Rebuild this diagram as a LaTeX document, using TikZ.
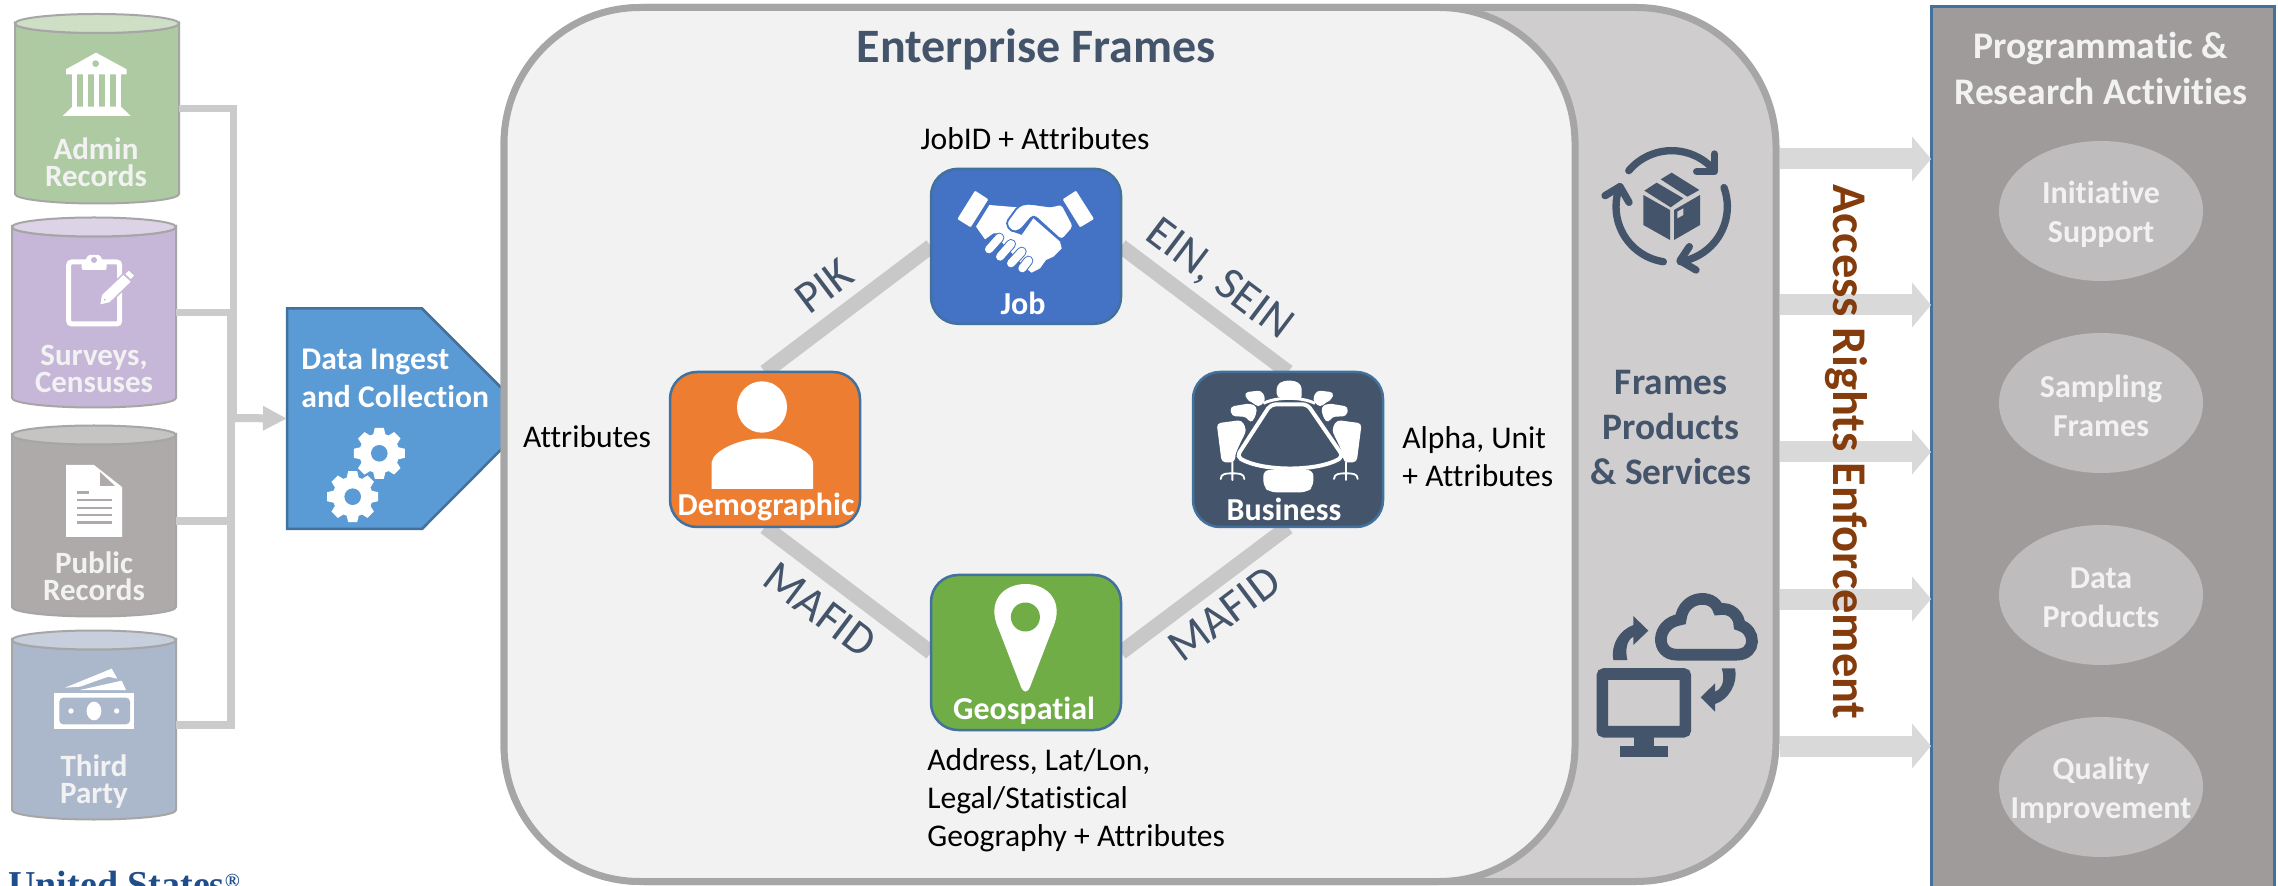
\documentclass[tikz,border=0pt]{standalone}
\usepackage{fontspec}
\setmainfont{Carlito}[Ligatures=CommonOff]
\newfontfamily\logofont{Liberation Serif}
\usetikzlibrary{arrows.meta,calc,shapes.geometric}
\definecolor{slate}{HTML}{44546A}
\definecolor{feedgrey}{HTML}{CCCBCB}
\definecolor{linkgrey}{HTML}{C8C8C8}
\definecolor{framegrey}{HTML}{A6A6A6}
\definecolor{backgrey}{HTML}{CFCDCE}
\definecolor{innergrey}{HTML}{F2F2F2}
\definecolor{arrowgrey}{HTML}{D9D9D9}
\definecolor{panelgrey}{HTML}{9E9B9A}
\definecolor{ovalgrey}{HTML}{BEBCBC}
\definecolor{edgeblue}{HTML}{41719C}
\definecolor{ingestblue}{HTML}{5B9BD5}
\definecolor{jobblue}{HTML}{4472C4}
\definecolor{demoorange}{HTML}{ED7D31}
\definecolor{geogreen}{HTML}{70AD47}
\definecolor{accessbrown}{HTML}{843C0C}
\definecolor{logoblue}{HTML}{1F4E8B}
\definecolor{cgreen}{HTML}{AECAA2}\definecolor{cgreent}{HTML}{CFDFC6}
\definecolor{cpurple}{HTML}{C6B6D7}\definecolor{cpurplet}{HTML}{DDD3E7}
\definecolor{cgrey}{HTML}{ADAAA9}\definecolor{cgreyt}{HTML}{C6C4C3}
\definecolor{cblue}{HTML}{ABB8CC}\definecolor{cbluet}{HTML}{C7CFDC}
\pgfdeclarelayer{under}
\pgfsetlayers{under,main}
\newcommand\fsz[2]{\fontsize{#1}{#2}\selectfont}
% name, x centre, y of top ellipse, y of bottom ellipse, body colour, top colour
\newcommand\cylshape[6]{%
  \node[inner sep=0,outer sep=0,minimum width=82pt,minimum height={(#4-#3+19)*0.5pt}] (#1) at (#2,{(#3+#4)/2}) {};
  \filldraw[draw=framegrey,line width=1pt,fill=#5] ({#2-82},#3) -- ({#2-82},#4) arc[start angle=180,end angle=0,x radius=82,y radius=9.5] -- ({#2+82},#3) arc[start angle=0,end angle=180,x radius=82,y radius=9.5] -- cycle;
  \filldraw[draw=framegrey,line width=1pt,fill=#6] (#2,#3) ellipse[x radius=82,y radius=9.5];
}
\newcommand\gearicon[3]{%
  \fill[white] (#1,#2) circle[radius=20];
  \foreach \a in {0,45,...,315}{\fill[white,shift={(#1,#2)},rotate=\a] (-6.5,-17) -- (-4.5,-25.5) -- (4.5,-25.5) -- (6.5,-17) -- cycle;}
  \fill[#3] (#1,#2) circle[radius=8.3];
}
\tikzset{
  feed/.style={draw=feedgrey,line width=3.6pt},
  link/.style={draw=linkgrey,line width=7.5pt},
  squarebox/.style={draw=edgeblue,line width=1.25pt,rounded corners=13.5pt,minimum width=95pt,minimum height=77.5pt,inner sep=0,outer sep=0},
  flowarrow/.style={draw=arrowgrey,line width=10.5pt,-{Triangle[length=9.5pt,width=22pt]}},
  oval/.style={ellipse,fill=ovalgrey,minimum width=102pt,minimum height=70pt,inner sep=0},
  ovaltext/.style={inner sep=0,text=innergrey,font=\bfseries\fsz{16}{19.5},align=center},
  cyllabel/.style={text=innergrey,font=\bfseries\fsz{15.5}{13.5},align=center,inner sep=0},
  boxlabel/.style={text=white,font=\bfseries\fsz{16}{18},inner sep=0},
  linklabel/.style={text=slate,font=\fsz{23}{26},inner sep=0},
  attrlabel/.style={text=black,font=\fsz{15.8}{19},inner sep=0,align=left},
  zoomed/.style={shift={#1},x=0.16667pt,y=-0.16667pt}
}
\begin{document}
\begin{tikzpicture}[x=0.5pt,y=-0.5pt]
\useasboundingbox (0,0) rectangle (2278,886);
\clip (0,0) rectangle (2278,886);
\begin{pgfonlayer}{under}
\fill[white] (0,0) rectangle (2278,886);
\end{pgfonlayer}

% cylinders
\cylshape{cylA}{97}{23.5}{194}{cgreen}{cgreent}
\cylshape{cylB}{94}{227}{398}{cpurple}{cpurplet}
\cylshape{cylC}{94}{435}{607}{cgrey}{cgreyt}
\cylshape{cylD}{94}{640}{810}{cblue}{cbluet}

\node[cyllabel] (labA) at (96,162.5) {Admin\\Records};
\node[cyllabel] (labB) at (94,369) {Surveys,\\Censuses};
\node[cyllabel] (labC) at (94,576.5) {Public\\Records};
\node[cyllabel] (labD) at (94,781.5) {Third\\Party};

% bank icon
\begin{scope}[zoomed={(40,40)}]
  \fill[white] (168,38) -- (260,88) -- (260,103) -- (78,103) -- (78,88) -- cycle;
  \fill[cgreen] (167,71) circle[radius=10];
  \foreach \c in {97,130,163,195,228}{\fill[white] (\c,103) rectangle ++(15,97);}
  \fill[white] (97,200) -- (243,200) -- (272,228) -- (68,228) -- cycle;
\end{scope}
% clipboard icon
\begin{scope}[zoomed={(40,240)}]
  \draw[white,line width=2.5pt,rounded corners=1.5pt] (86,66) rectangle (239,252);
  \fill[white,rounded corners=1pt] (125,90) -- (125,62) -- (138,62) -- (142,45) -- (182,45) -- (186,62) -- (200,62) -- (200,90) -- cycle;
  \fill[cpurple] (162,60) circle[radius=9];
  \draw[cpurple,line width=1.5pt] (181,193) -- (186,165) -- (250,105) -- (272,125) -- (208,187) -- cycle;
  \fill[white] (181,193) -- (186,165) -- (250,105) -- (272,125) -- (208,187) -- cycle;
  \fill[white] (256,102) -- (266,92) -- (282,107) -- (272,117) -- cycle;
  \fill[cpurple] (194,179) circle[radius=3];
\end{scope}
% document icon
\fill[white] (66,465) -- (94,465) -- (122,487) -- (122,537) -- (66,537) -- cycle;
\fill[cgrey] (100,472) -- (115,486) -- (100,486) -- cycle;
\draw[cgrey,line width=1.2pt] (77,492.5) -- (89,492.5) (77,500) -- (112,500) (77,508) -- (112,508) (77,515) -- (112,515) (77,522.5) -- (112,522.5);
% money icon
\begin{scope}[zoomed={(30,660)}]
  \fill[white] (105,83) -- (245,26) -- (262,56) -- (235,50) -- (150,80) -- cycle;
  \fill[white] (150,90) -- (275,62) -- (288,90) -- cycle;
  \fill[white] (72,98) rectangle (313,208);
  \fill[cblue,rounded corners=2pt] (88,113) rectangle (300,193);
  \fill[white] (192,153) ellipse[x radius=22,y radius=28];
  \fill[white] (123,153) circle[radius=8] (260,153) circle[radius=8];
\end{scope}

% feed connectors
\coordinate (busUp) at (233.5,418);
\coordinate (busLow) at (231,418);
\coordinate (ingest) at (287,418.5);
\draw[feed] (cylA.east) -| (busUp);
\draw[feed] (cylB.east) -| (busLow);
\draw[feed] (cylC.east) -| (busLow);
\draw[feed] (cylD.east) -| (busLow);
\draw[feed,line width=4pt,-{Triangle[length=12pt,width=11.5pt]}] (busLow) -- (ingest);

\begin{pgfonlayer}{under}
  \filldraw[draw=edgeblue,line width=1.25pt,fill=ingestblue] (ingest |- 0,308.5) -- (422,308.5) -- (532,418.5) -- (422,529) -- (ingest |- 0,529) -- cycle;
  \node[draw=framegrey,line width=3.5pt,fill=backgrey,rounded corners=70pt,minimum width=636pt,minimum height=437pt,inner sep=0,outer sep=1.75pt] (back) at (1140,444.5) {};
  \node[draw=framegrey,line width=3.5pt,fill=innergrey,rounded corners=68pt,minimum width=535.5pt,minimum height=437pt,inner sep=0,outer sep=1.75pt] (inner) at (1039.5,444.5) {};
\end{pgfonlayer}

\node[text=white,font=\bfseries\fsz{15.8}{19},align=left,inner sep=0,anchor=west] (ingestlabel) at (301,378.5) {Data Ingest\\and Collection};
\gearicon{379.3}{453.3}{ingestblue}
\gearicon{352.7}{496.7}{ingestblue}

% entity boxes
\node[squarebox,fill=jobblue] (job) at (1026,246.3) {};
\node[squarebox,fill=demoorange] (demo) at (765,449.5) {};
\node[squarebox,fill=slate] (biz) at (1288,449.5) {};
\node[squarebox,fill=geogreen] (geo) at (1026,652.5) {};
\begin{pgfonlayer}{under}
  \draw[link] (job.west) -- (demo.north);
  \draw[link] (job.east) -- (biz.north);
  \draw[link] (demo.south) -- (geo.west);
  \draw[link] (biz.south) -- (geo.east);
\end{pgfonlayer}
\node[boxlabel] (jobt) at (1023,303) {Job};
\node[boxlabel] (demot) at (766,507) {Demographic};
\node[boxlabel] (bizt) at (1284,509) {Business};
\node[boxlabel] (geot) at (1024,710.5) {Geospatial};

% handshake
\begin{scope}[zoomed={(940,170)}]
  \fill[white,rounded corners=0.5pt] (105,62) -- (145,88) -- (92,172) -- (52,147) -- cycle;
  \fill[white,rounded corners=0.5pt] (408,62) -- (368,88) -- (420,172) -- (462,147) -- cycle;
  \fill[white] (148,105) -- (232,112) -- (200,165) -- (215,190) -- (160,190) -- (135,208) -- (108,170) -- cycle;
  \fill[white] (190,175) -- (245,195) -- (280,145) -- (360,215) -- (365,235) -- (340,260) -- (318,270) -- (300,295) -- (275,308) -- (258,295) -- (170,200) -- cycle;
  \foreach \xa/\ya/\xb/\yb in {178/203/147/238,213/222/180/260,245/245/213/280,265/272/247/295}{
    \draw[jobblue,line width=5pt,line cap=round] (\xa,\ya) -- (\xb,\yb);
    \draw[white,line width=4pt,line cap=round] (\xa,\ya) -- (\xb,\yb);}
  \filldraw[fill=white,draw=jobblue,line width=0.9pt,rounded corners=2pt] (235,108) -- (262,100) -- (335,110) -- (365,100) -- (402,170) -- (365,212) -- (280,135) -- (240,182) -- (215,186) -- (197,160) -- cycle;
\end{scope}
% person
\fill[white] (762,407) ellipse[x radius=25,y radius=25.7];
\fill[white] (711.7,489) -- (711.7,462) .. controls (714,450) and (740,438.5) .. (762,438.5) .. controls (785,438.5) and (811,450) .. (813,462) -- (813,489) -- cycle;
% pin
\fill[white] (1025.4,691.6) .. controls (1023,691.6) and (1022,689) .. (1021,687) -- (999,630) .. controls (985,600) and (1005,584) .. (1025.4,584) .. controls (1046,584) and (1066,600) .. (1052,630) -- (1030,687) .. controls (1029,689) and (1028,691.6) .. (1025.4,691.6) -- cycle;
\fill[geogreen] (1025.4,617) ellipse[x radius=14.5,y radius=14.5];
% boardroom
\begin{scope}[zoomed={(1200,375)}]
  \fill[white,rounded corners=2pt] (230,68) -- (230,30) -- (250,17) -- (285,17) -- (305,30) -- (305,75) -- cycle;
  \foreach \sx/\off in {1/0,-1/535}{
   \begin{scope}[shift={(\off,0)},xscale=\sx]
    \fill[white,rounded corners=2pt] (133,52) -- (185,46) -- (198,75) -- (175,98) -- (155,80) -- (140,75) -- cycle;
    \fill[white,rounded corners=2pt] (90,95) -- (150,85) -- (172,95) -- (165,130) -- (150,145) -- (140,125) -- (95,124) -- cycle;
    \fill[white,rounded corners=2pt] (50,145) -- (125,135) -- (140,165) -- (118,210) -- (105,240) -- (105,262) -- (65,262) -- cycle;
    \draw[white,line width=0.9pt,line cap=round] (97,262) -- (97,295) (62,312) .. controls (62,295) and (80,295) .. (97,295) .. controls (115,295) and (133,295) .. (133,312) (97,295) -- (97,315);
   \end{scope}}
  \fill[white,rounded corners=3pt] (190,285) -- (340,285) -- (340,335) -- (320,352) -- (210,352) -- (190,335) -- cycle;
  \draw[white,line width=1.5pt] (190,85) .. controls (230,65) and (305,65) .. (345,85);
  \filldraw[fill=slate,draw=white,line width=2pt,rounded corners=2.5pt] (212,88) -- (322,88) -- (430,245) .. controls (350,290) and (190,290) .. (110,245) -- cycle;
\end{scope}

% labels in the frame
\node[text=slate,font=\bfseries\fsz{24}{28},inner sep=0] (title) at (1036,49.5) {Enterprise Frames};
\node[attrlabel] (attrjob) at (1035,139) {JobID + Attributes};
\node[attrlabel] (attrdemo) at (587,437) {Attributes};
\node[attrlabel,anchor=west] (attrbiz) at (1402,457) {Alpha, Unit\\+ Attributes};
\node[attrlabel,anchor=north west] (attrgeo) at (927,748) {Address, Lat/Lon,\\Legal/Statistical\\Geography + Attributes};
\node[linklabel,rotate=37] (lpik) at (824,286) {PIK};
\node[linklabel,rotate=-37] (lein) at (1219,280) {EIN, SEIN};
\node[linklabel,rotate=-37] (lmafl) at (820,610) {MAFID};
\node[linklabel,rotate=37] (lmafr) at (1224,614) {MAFID};

\node[text=slate,font=\bfseries\fsz{18.7}{22.5},align=center,inner sep=0] (fps) at (1671,428) {Frames\\Products\\\& Services};

% box cycle icon
\begin{scope}[zoomed={(1580,130)}]
  \begin{scope}[line width=3.67pt,line cap=round,line join=round]
  \draw[slate] ({275+168*cos(220)},{230+168*sin(220)}) arc[start angle=220,end angle=318,radius=168];
  \draw[slate] (403,72) -- (403,125) -- (350,125);
  \draw[slate] ({275+167*cos(340)},{230+167*sin(340)}) arc[start angle=340,end angle=441,radius=167];
  \draw[slate] (328,350) -- (300,392) -- (348,420);
  \draw[slate] ({275+167*cos(98.6)},{230+167*sin(98.6)}) arc[start angle=98.6,end angle=201,radius=167];
  \draw[slate] (75,197) -- (120,170) -- (147,217);
  \end{scope}
  \fill[slate] (193,182) -- (230,158) -- (310,205) -- (272,232) -- cycle;
  \fill[slate] (242,148) -- (275,128) -- (358,180) -- (322,200) -- cycle;
  \fill[slate] (190,195) -- (270,240) -- (270,330) -- (190,285) -- cycle;
  \fill[slate] (282,240) -- (360,195) -- (360,285) -- (282,330) -- cycle;
  \fill[backgrey] (292,245) -- (310,235) -- (310,255) -- (292,265) -- cycle;
\end{scope}
% monitor and cloud icon
\begin{scope}[zoomed={(1580,580)}]
  \draw[slate,line width=5.83pt,rounded corners=1pt] (67,282) rectangle (316,455);
  \fill[slate] (163,470) rectangle (222,497);
  \fill[slate] (120,497) rectangle (263,532);
  \draw[slate,line width=5.83pt] (290,224) .. controls (225,224) and (225,130) .. (302,118) .. controls (310,45) and (400,40) .. (415,88) .. controls (455,80) and (478,110) .. (478,135) .. controls (530,150) and (530,224) .. (470,224) -- cycle;
  \fill[slate] (100,240) .. controls (92,190) and (120,150) .. (160,135) -- (160,108) -- (205,152) -- (160,195) -- (160,170) .. controls (140,180) and (135,210) .. (142,240) -- cycle;
  \fill[slate] (425,265) -- (465,265) .. controls (475,310) and (445,360) .. (405,372) -- (405,395) -- (362,352) -- (405,310) -- (405,335) .. controls (430,325) and (435,295) .. (425,265) -- cycle;
\end{scope}

% activities panel
\node[draw=edgeblue,line width=1.5pt,fill=panelgrey,minimum width=171.5pt,minimum height=460pt,inner sep=0,outer sep=0,anchor=north west] (panel) at (1931,7) {};
\foreach \yy in {159,305,452,599,746}{
  \draw[flowarrow] (back.east |- 0,\yy) -- (panel.west |- 0,\yy);
}
\node[text=innergrey,font=\bfseries\fsz{18.8}{23},align=center,inner sep=0] (ptitle) at (2101,68) {Programmatic \&\\Research Activities};
\node[oval] (ovA) at (2101,211) {};
\node[oval] (ovB) at (2101,403) {};
\node[oval] (ovC) at (2101,595) {};
\node[oval] (ovD) at (2101,787) {};
\node[ovaltext] (ovAt) at (2101,214) {Initiative\\Support};
\node[ovaltext] (ovBt) at (2101,406) {Sampling\\Frames};
\node[ovaltext] (ovCt) at (2101,598) {Data\\Products};
\node[ovaltext] (ovDt) at (2101,790) {Quality\\Improvement};

\node[text=accessbrown,font=\bfseries\fsz{24.2}{28},rotate=-90,inner sep=0] (access) at (1846,452) {Access Rights Enforcement};

\node[text=logoblue,font=\logofont\bfseries\fsz{19}{20},anchor=base west,inner sep=0] (logo) at (8,897) {United States\raisebox{5pt}{\fsz{10}{10}®}};
\end{tikzpicture}
\end{document}
